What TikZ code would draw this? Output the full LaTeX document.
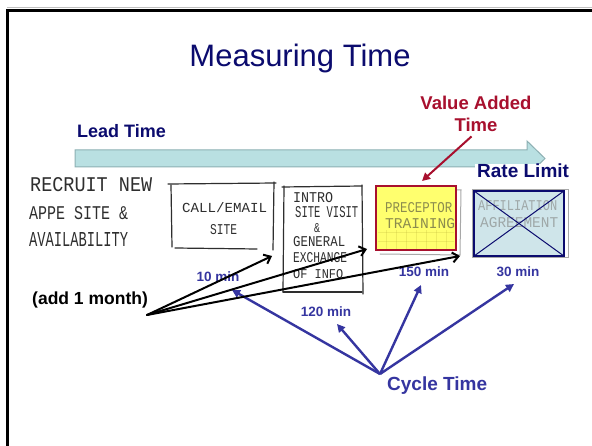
\documentclass[tikz,border=0pt]{standalone}
\usepackage{fontspec}
\setmainfont{Liberation Sans}
\newfontfamily\handfont{Liberation Mono}
\usetikzlibrary{arrows.meta}

\definecolor{navy}{HTML}{0B0B6E}
\definecolor{vared}{HTML}{A8102E}
\definecolor{cyblue}{HTML}{3535A0}
\definecolor{barfill}{HTML}{B9E0E2}
\definecolor{barline}{HTML}{8DB0B3}
\definecolor{pencil}{HTML}{2E2E2E}
\definecolor{faintpencil}{HTML}{A8A8A8}
\definecolor{yellowfill}{HTML}{FFFF6E}
\definecolor{yellowink}{HTML}{8C8C4E}
\definecolor{ratefill}{HTML}{CFE5EA}
\definecolor{rateink}{HTML}{9FA8A8}

\newcommand{\fsz}[1]{\fontsize{#1}{#1}\selectfont}

\tikzset{
  handtxt/.style={font=\handfont, text=pencil, inner sep=0pt, anchor=base west},
  sketch/.style={pencil, line width=1.2pt, line cap=round, line join=round},
  faintsketch/.style={faintpencil, line width=1pt, line cap=round},
  minlabel/.style={font=\fsz{13.5}\bfseries, text=cyblue, inner sep=0pt, anchor=base},
  cyclearrow/.style={cyblue, line width=2.4pt, -{Triangle[length=8pt,width=8pt]}},
  montharrow/.style={black, line width=2pt, line cap=round, -{Straight Barb[length=6pt,width=10pt]}},
  vaarrow/.style={vared, line width=2pt, -{Triangle[length=8pt,width=8pt]}}
}

\begin{document}
\begin{tikzpicture}[x=1pt,y=-1pt]
\useasboundingbox (0,0) rectangle (592,446);
\fill[white] (0,0) rectangle (592,446);

% slide frame
\draw[black!25, line width=1pt] (7,7.2) -- (592,7.2);
\draw[line width=2.2pt] (7.5,446) -- (7.5,10.5) -- (592,10.5);

% title
\node[font=\fsz{31}, text=navy, inner sep=0pt, anchor=base] (title) at (300,67) {Measuring Time};

% lead time bar
\draw[barline, fill=barfill, line width=1pt]
  (75,150) -- (527,150) -- (527,141) -- (545,158.5) -- (527,176) -- (527,167) -- (75,167) -- cycle;
\node[font=\fsz{18}\bfseries, text=navy, inner sep=0pt, anchor=base west] (lead) at (77,138) {Lead Time};

% value added time
\node[font=\fsz{18.5}\bfseries, text=vared, inner sep=0pt, anchor=base] (va1) at (476,110) {Value Added};
\node[font=\fsz{18.5}\bfseries, text=vared, inner sep=0pt, anchor=base] (va2) at (476,132) {Time};

% rate limit (white text box over the bar tip)
\node[font=\fsz{19}\bfseries, text=navy, fill=white, inner xsep=2pt, inner ysep=0pt,
      text height=13.5pt, text depth=0pt, anchor=base west] (rate) at (475,178) {Rate Limit};

% recruit note
\node[handtxt] (rc1) at (30,192) {\resizebox{122pt}{14pt}{RECRUIT NEW}};
\node[handtxt] (rc2) at (29,220) {\resizebox{99pt}{13pt}{APPE SITE \&}};
\node[handtxt] (rc3) at (29,247) {\resizebox{99pt}{14pt}{AVAILABILITY}};

% call / email box
\draw[sketch] (168,184) -- (276,183);
\draw[sketch] (171,185) -- (172,247);
\draw[sketch] (274,182) -- (273,250);
\draw[sketch] (175,248) -- (257,249);
\node[handtxt] (ce1) at (182,213) {\resizebox{85pt}{10pt}{CALL/EMAIL}};
\node[handtxt] (ce2) at (210,235) {\resizebox{27pt}{10pt}{SITE}};

% intro visit box
\draw[sketch] (282,187) -- (362,186);
\draw[sketch] (284,186) -- (283,292);
\draw[sketch] (362,185) -- (363,294);
\draw[sketch] (283,292) -- (362,292);
\node[handtxt] (in1) at (293,203) {\resizebox{40pt}{10pt}{INTRO}};
\node[handtxt] (in2) at (295,218) {\resizebox{63pt}{11pt}{SITE VISIT}};
\node[handtxt] (in3) at (314,233) {\resizebox{6pt}{9pt}{\&}};
\node[handtxt] (in4) at (293,247) {\resizebox{52pt}{10pt}{GENERAL}};
\node[handtxt] (in5) at (293,263) {\resizebox{54pt}{10pt}{EXCHANGE}};
\node[handtxt] (in6) at (293,279) {\resizebox{50pt}{9pt}{OF INFO}};

% sketch outlines behind the coloured boxes
\draw[faintsketch] (455,190) -- (461,190) -- (460,255) -- (380,254);
\draw[faintsketch] (472,190) -- (472,258) -- (568,258) -- (568,190) -- cycle;

% preceptor training (value added step)
\node[draw=vared, fill=yellowfill, line width=2.2pt, minimum width=80pt, minimum height=64pt,
      inner sep=0pt] (precept) at (416,218) {};
\foreach \gx in {386,396,...,446} \draw[yellow!70!black, opacity=0.25, line width=0.5pt] (\gx,230) -- (\gx,249);
\foreach \gy in {232,241} \draw[yellow!70!black, opacity=0.25, line width=0.5pt] (378,\gy) -- (454,\gy);
\node[handtxt, text=yellowink] (pt1) at (385,213) {\resizebox{67pt}{10pt}{PRECEPTOR}};
\node[handtxt, text=yellowink] (pt2) at (385,229) {\resizebox{70pt}{10pt}{TRAINING}};

% affiliation agreement (rate limit step)
\node[fill=ratefill, minimum width=90pt, minimum height=65pt, inner sep=0pt] (ratebox) at (519,223.5) {};
\node[handtxt, text=rateink] (af1) at (478,211) {\resizebox{79pt}{10pt}{AFFILIATION}};
\node[handtxt, text=rateink] (af2) at (480,228) {\resizebox{78pt}{10pt}{AGREEMENT}};
\draw[navy, line width=1pt] (ratebox.north west) -- (ratebox.south east);
\draw[navy, line width=1pt] (ratebox.south west) -- (ratebox.north east);
\draw[navy, line width=2pt] (ratebox.north west) rectangle (ratebox.south east);

% cycle time labels
\node[minlabel] (m10) at (218,282) {10 min};
\node[minlabel] (m150) at (424,277) {150 min};
\node[minlabel] (m30) at (518,277) {30 min};
\node[minlabel] (m120) at (326,317) {120 min};
\node[font=\fsz{19}\bfseries, text=cyblue, inner sep=0pt, anchor=base west] (cycle) at (387,391) {Cycle Time};
\node[font=\fsz{17.5}\bfseries, inner sep=0pt, anchor=base west] (month) at (32,305) {(add 1 month)};

% connector end points
\coordinate (monthpt) at (147,315);
\coordinate (tcall) at (272,256);
\coordinate (tintro) at (367,249);
\coordinate (tprec) at (460,256);
\coordinate (cycpt) at (380,374);
\coordinate (c10) at (232,290);
\coordinate (c120) at (337,324);
\coordinate (c150) at (421,285);
\coordinate (c30) at (514,284);
\coordinate (vatip) at (422,181);

% value added pointer
\draw[vaarrow, shorten <=6pt] (va2.south) -- (vatip);

% cycle time pointers
\draw[cyclearrow] (cycpt) -- (c10);
\draw[cyclearrow] (cycpt) -- (c120);
\draw[cyclearrow] (cycpt) -- (c150);
\draw[cyclearrow] (cycpt) -- (c30);

% one-month wait pointers
\draw[montharrow] (monthpt) -- (tcall);
\draw[montharrow] (monthpt) -- (tintro);
\draw[montharrow] (monthpt) -- (tprec);
\end{tikzpicture}
\end{document}
